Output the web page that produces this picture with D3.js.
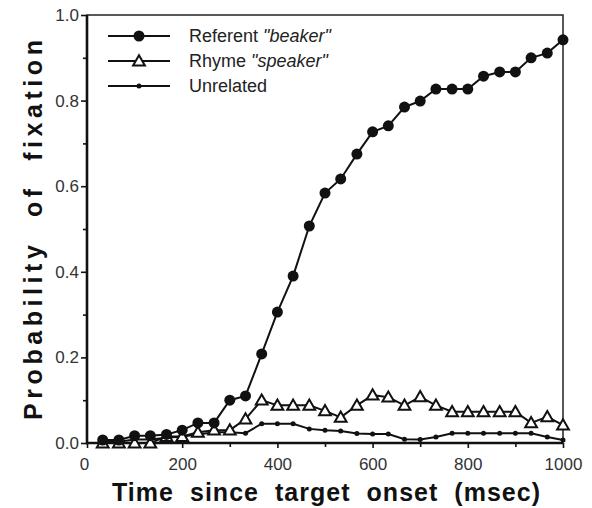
<html>
<head>
<meta charset="utf-8">
<title>Probability of fixation</title>
<script src="https://cdn.jsdelivr.net/npm/d3@7/dist/d3.min.js"></script>
<style>
  body { margin: 0; background: #fff; }
  text { font-family: "Liberation Sans", Arial, Helvetica, sans-serif; }
</style>
</head>
<body>
<div id="chart"></div>
<script>
// time bins (msec)
const times = [33, 67, 100, 133, 167, 200, 233, 267, 300, 333,
               367, 400, 433, 467, 500, 533, 567, 600, 633, 667,
               700, 733, 767, 800, 833, 867, 900, 933, 967, 1000];
const referent = [0.007, 0.007, 0.017, 0.017, 0.02, 0.03, 0.047, 0.047, 0.1, 0.11,
                  0.208, 0.306, 0.39, 0.507, 0.584, 0.617, 0.675, 0.727, 0.741, 0.785,
                  0.799, 0.827, 0.827, 0.827, 0.857, 0.867, 0.867, 0.9, 0.911, 0.942];
const rhyme = [0, 0, 0, 0, 0.015, 0.015, 0.025, 0.03, 0.03, 0.056,
               0.1, 0.088, 0.088, 0.088, 0.075, 0.06, 0.088, 0.112, 0.107, 0.088,
               0.108, 0.088, 0.073, 0.073, 0.073, 0.073, 0.073, 0.047, 0.061, 0.042];
const unrelated = [0.003, 0.003, 0.008, 0.008, 0.012, 0.015, 0.02, 0.025, 0.025, 0.023,
                   0.045, 0.045, 0.045, 0.033, 0.03, 0.028, 0.022, 0.021, 0.021, 0.009,
                   0.008, 0.014, 0.023, 0.023, 0.023, 0.023, 0.023, 0.023, 0.014, 0.007];
const xTicks = [0, 200, 400, 600, 800, 1000];
const yTicks = [0, 0.2, 0.4, 0.6, 0.8, 1.0];
const legendLabels = [["Referent ", "\"beaker\""], ["Rhyme ", "\"speaker\""], ["Unrelated", ""]];

const W = 592, H = 508;
const svg = d3.select('#chart').append('svg').attr('width', W).attr('height', H);

const x = d3.scaleLinear().domain([0, 1000]).range([87, 563]);
const y = d3.scaleLinear().domain([0, 1]).range([443, 15]);

// minor ticks
svg.append('g').attr('transform', 'translate(0,' + y(0) + ')')
  .call(d3.axisBottom(x).tickValues(d3.range(100, 1000, 200)).tickSize(4).tickFormat(''));
const gx2 = svg.append('g').attr('transform', 'translate(0,' + y(0) + ')')
  .call(d3.axisBottom(x).tickValues(xTicks).tickSize(5).tickPadding(10).tickFormat(d3.format('d')));
svg.append('g').attr('transform', 'translate(' + x(0) + ',0)')
  .call(d3.axisLeft(y).tickValues(d3.range(0.1, 1, 0.2)).tickSize(4).tickFormat(''));
svg.append('g').attr('transform', 'translate(' + x(0) + ',0)')
  .call(d3.axisLeft(y).tickValues(yTicks).tickSize(6).tickPadding(2).tickFormat(d3.format('.1f')));

svg.selectAll('.domain').remove();
svg.selectAll('.tick line').attr('stroke', '#111').attr('stroke-width', 1.6);
svg.selectAll('.tick text').attr('font-size', 17).attr('fill', '#333')
  .attr('font-family', '"Liberation Sans", Arial, sans-serif');
gx2.selectAll('.tick text').filter(d => d === 0).attr('dx', -3);

// frame
svg.append('rect').attr('x', x(0)).attr('y', y(1))
  .attr('width', x(1000) - x(0)).attr('height', y(0) - y(1))
  .attr('fill', 'none').attr('stroke', '#222').attr('stroke-width', 1.5);
svg.append('path').attr('d', 'M' + x(0) + ',' + y(1) + 'V' + y(0) + 'H' + x(1000))
  .attr('fill', 'none').attr('stroke', '#111').attr('stroke-width', 2.6);

const line = d3.line().x(d => x(d[0])).y(d => y(d[1]));
const tri = d3.symbol().type(d3.symbolTriangle).size(60);

function drawSeries(vals, kind) {
  const pts = times.map((t, i) => [t, vals[i]]);
  svg.append('path').datum(pts).attr('d', line)
    .attr('fill', 'none').attr('stroke', '#111').attr('stroke-width', 2);
  const g = svg.append('g');
  if (kind === 'circle') {
    g.selectAll('circle').data(pts).enter().append('circle')
      .attr('cx', d => x(d[0])).attr('cy', d => y(d[1])).attr('r', 5.5).attr('fill', '#111');
  } else if (kind === 'tri') {
    g.selectAll('path').data(pts).enter().append('path')
      .attr('d', tri).attr('transform', d => 'translate(' + x(d[0]) + ',' + (y(d[1]) + 1) + ')')
      .attr('fill', '#fff').attr('stroke', '#111').attr('stroke-width', 2);
  } else {
    g.selectAll('circle').data(pts).enter().append('circle')
      .attr('cx', d => x(d[0])).attr('cy', d => y(d[1])).attr('r', 2.5).attr('fill', '#111');
  }
}
drawSeries(unrelated, 'dot');
drawSeries(rhyme, 'tri');
drawSeries(referent, 'circle');

// legend
const kinds = ['circle', 'tri', 'dot'];
const leg = svg.append('g');
legendLabels.forEach((lab, i) => {
  const ly = 36 + i * 25;
  leg.append('line').attr('x1', 108).attr('x2', 170).attr('y1', ly).attr('y2', ly)
    .attr('stroke', '#111').attr('stroke-width', 2);
  if (kinds[i] === 'circle') leg.append('circle').attr('cx', 139).attr('cy', ly).attr('r', 5.5).attr('fill', '#111');
  else if (kinds[i] === 'tri') leg.append('path').attr('d', tri).attr('transform', 'translate(139,' + (ly + 1) + ')')
    .attr('fill', '#fff').attr('stroke', '#111').attr('stroke-width', 2);
  else leg.append('circle').attr('cx', 139).attr('cy', ly).attr('r', 2.5).attr('fill', '#111');
  const t = leg.append('text').attr('x', 189).attr('y', ly + 6).attr('font-size', 18).attr('fill', '#222');
  t.append('tspan').text(lab[0]);
  if (lab[1]) t.append('tspan').attr('font-style', 'italic').text(lab[1]);
});

// axis titles
svg.append('text').attr('x', 326).attr('y', 501).attr('text-anchor', 'middle')
  .attr('font-size', 25).attr('font-weight', 'bold').attr('fill', '#111')
  .attr('word-spacing', 8).attr('textLength', 428).attr('lengthAdjust', 'spacing')
  .text('Time since target onset (msec)');
svg.append('text').attr('transform', 'translate(42,230) rotate(-90)').attr('text-anchor', 'middle')
  .attr('font-size', 25).attr('font-weight', 'bold').attr('fill', '#111')
  .attr('word-spacing', 12).attr('textLength', 380).attr('lengthAdjust', 'spacing')
  .text('Probability of fixation');
</script>
</body>
</html>
